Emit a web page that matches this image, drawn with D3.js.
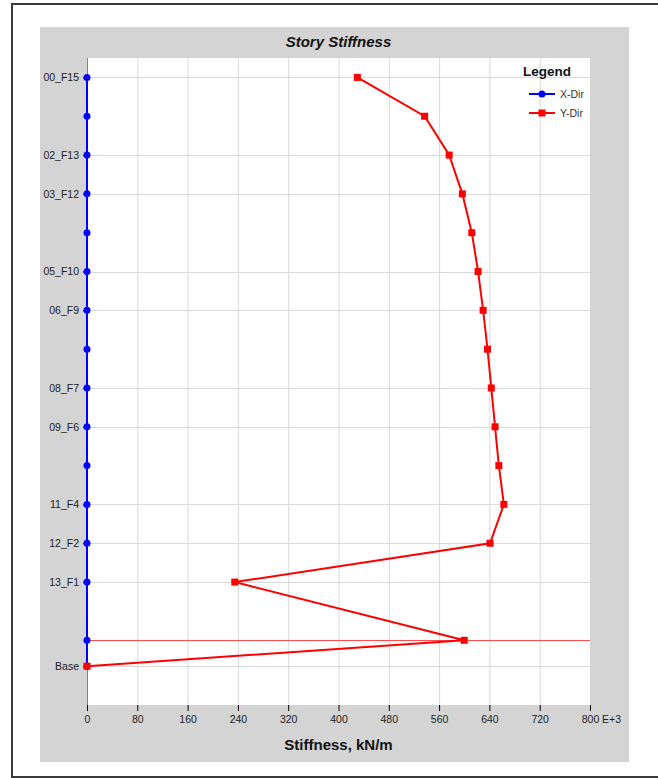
<!DOCTYPE html>
<html>
<head>
<meta charset="utf-8">
<script src="https://cdn.jsdelivr.net/npm/d3@7"></script>
<style>
  body { margin: 0; background: #fff; }
  svg { display: block; }
</style>
</head>
<body>
<svg id="drawing_region"></svg>
<script>
// story names (top to bottom), elevation in m, labels shown on the axis
const stories = ['00_F15', '01_F14', '02_F13', '03_F12', '04_F11', '05_F10', '06_F9', '07_F8',
                 '08_F7', '09_F6', '10_F5', '11_F4', '12_F2', '13_F1', '14_GF', 'Base'];
const elevations = [45.5, 42.5, 39.5, 36.5, 33.5, 30.5, 27.5, 24.5, 21.5, 18.5, 15.5, 12.5, 9.5, 6.5, 2.0, 0];
const shownLabels = ['00_F15', '02_F13', '03_F12', '05_F10', '06_F9', '08_F7', '09_F6', '11_F4', '12_F2', '13_F1', 'Base'];

// stiffness values, E+3 kN/m
const xDir = [0, 0, 0, 0, 0, 0, 0, 0, 0, 0, 0, 0, 0, 0, 0, 0];
const yDir = [430, 537, 576, 597, 612, 622, 630, 637, 643, 649, 655, 663, 641, 235, 600, 0];

const xTicks = [0, 80, 160, 240, 320, 400, 480, 560, 640, 720, 800];

const W = 658, H = 778;
const plot = {left: 87, right: 590, top: 58, bottom: 705};
const font = '"Liberation Sans Narrow", "Liberation Sans", Arial, sans-serif';

const svg = d3.select('#drawing_region').attr('width', W).attr('height', H);

// outer frame + gray panel
svg.append('rect').attr('x', 12).attr('y', 4).attr('width', W).attr('height', 773)
    .attr('fill', '#fff').attr('stroke', '#3a3a3a').attr('stroke-width', 2);
svg.append('rect').attr('x', 40).attr('y', 27).attr('width', 589).attr('height', 735)
    .attr('fill', '#d4d4d4');
svg.append('rect').attr('x', plot.left).attr('y', plot.top)
    .attr('width', plot.right - plot.left).attr('height', plot.bottom - plot.top)
    .attr('fill', '#fff');

const xscale = d3.scaleLinear().domain([0, 800]).range([plot.left, plot.right]);
const yscale = d3.scaleLinear().domain([-3, 47]).range([plot.bottom, plot.top]);

const labelled = stories.map((s, i) => ({name: s, elev: elevations[i]}))
    .filter(d => shownLabels.includes(d.name));

// grid
const grid = svg.append('g').attr('stroke', '#d9d9d9').attr('stroke-width', 1);
grid.selectAll('line.v').data(xTicks.slice(1, -1)).enter().append('line')
    .attr('x1', d => xscale(d) + 0.5).attr('x2', d => xscale(d) + 0.5)
    .attr('y1', plot.top).attr('y2', plot.bottom);
grid.selectAll('line.h').data(labelled).enter().append('line')
    .attr('x1', plot.left).attr('x2', plot.right)
    .attr('y1', d => Math.round(yscale(d.elev)) + 0.5).attr('y2', d => Math.round(yscale(d.elev)) + 0.5);

// x axis
const xaxis = d3.axisBottom(xscale).tickValues(xTicks).tickSize(6).tickSizeOuter(0).tickPadding(5);
const xg = svg.append('g').attr('transform', `translate(0, ${plot.bottom})`).call(xaxis);
xg.select('.domain').remove();
xg.selectAll('text').attr('font-family', font).attr('font-size', 10.5).attr('fill', '#222');
svg.append('text').attr('x', xscale(800) + 12).attr('y', plot.bottom + 11).attr('dy', '0.71em')
    .attr('font-family', font).attr('font-size', 10.5).attr('fill', '#222').text('E+3');

// y axis
const yaxis = d3.axisLeft(yscale).tickValues(labelled.map(d => d.elev))
    .tickFormat(v => labelled.find(d => d.elev === v).name)
    .tickSize(4).tickPadding(4).tickSizeOuter(0);
const yg = svg.append('g').attr('transform', `translate(${plot.left}, 0)`).call(yaxis);
yg.select('.domain').remove();
yg.selectAll('text').attr('font-family', font).attr('font-size', 10.5).attr('fill', '#222');

// red reference lines
const lowIdx = stories.indexOf('14_GF');
svg.append('line').attr('x1', plot.left + 0.5).attr('x2', plot.left + 0.5)
    .attr('y1', plot.top).attr('y2', plot.bottom)
    .attr('stroke', '#ff4d4d').attr('stroke-width', 1);
svg.append('line').attr('x1', plot.left).attr('x2', plot.right)
    .attr('y1', Math.round(yscale(elevations[lowIdx])) + 0.5)
    .attr('y2', Math.round(yscale(elevations[lowIdx])) + 0.5)
    .attr('stroke', '#ff4d4d').attr('stroke-width', 1);

// series
const line = d3.line().x(d => xscale(d.v)).y(d => yscale(d.e));
const xData = xDir.map((v, i) => ({v: v, e: elevations[i]}));
const yData = yDir.map((v, i) => ({v: v, e: elevations[i]}));

svg.append('path').datum(xData).attr('d', line)
    .attr('fill', 'none').attr('stroke', '#0000ff').attr('stroke-width', 2);
svg.selectAll('circle.xd').data(xData).enter().append('circle')
    .attr('cx', d => xscale(d.v)).attr('cy', d => yscale(d.e)).attr('r', 3.5)
    .attr('fill', '#0000ff');

svg.append('path').datum(yData).attr('d', line)
    .attr('fill', 'none').attr('stroke', '#ff0000').attr('stroke-width', 2);
svg.selectAll('rect.yd').data(yData).enter().append('rect')
    .attr('x', d => xscale(d.v) - 3.5).attr('y', d => yscale(d.e) - 3.5)
    .attr('width', 7).attr('height', 7).attr('fill', '#ff0000');

// titles
svg.append('text').attr('x', (plot.left + plot.right) / 2).attr('y', 47)
    .attr('text-anchor', 'middle').attr('font-family', font).attr('font-size', 15)
    .attr('font-weight', 'bold').attr('font-style', 'italic').attr('fill', '#111')
    .text('Story Stiffness');
svg.append('text').attr('x', (plot.left + plot.right) / 2).attr('y', 750)
    .attr('text-anchor', 'middle').attr('font-family', font).attr('font-size', 15)
    .attr('font-weight', 'bold').attr('fill', '#111')
    .text('Stiffness, kN/m');

// legend
const legend = svg.append('g');
legend.append('text').attr('x', 547).attr('y', 76).attr('text-anchor', 'middle')
    .attr('font-family', font).attr('font-size', 13.5).attr('font-weight', 'bold')
    .attr('fill', '#111').text('Legend');
const items = [{name: 'X-Dir', color: '#0000ff', shape: 'circle'}, {name: 'Y-Dir', color: '#ff0000', shape: 'square'}];
items.forEach((it, i) => {
    const y = 94 + i * 19;
    legend.append('line').attr('x1', 529).attr('x2', 555).attr('y1', y).attr('y2', y)
        .attr('stroke', it.color).attr('stroke-width', 2);
    if (it.shape === 'circle') {
        legend.append('circle').attr('cx', 542).attr('cy', y).attr('r', 3.5).attr('fill', it.color);
    } else {
        legend.append('rect').attr('x', 538.5).attr('y', y - 3.5).attr('width', 7).attr('height', 7).attr('fill', it.color);
    }
    legend.append('text').attr('x', 560).attr('y', y + 3.5)
        .attr('font-family', font).attr('font-size', 10.5).attr('fill', '#333').text(it.name);
});
</script>
</body>
</html>
